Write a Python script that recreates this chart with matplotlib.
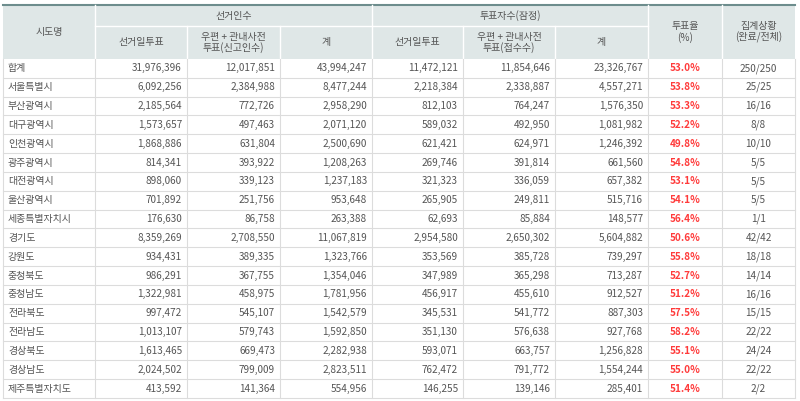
import matplotlib
matplotlib.use("Agg")
import matplotlib.pyplot as plt
from matplotlib.patches import Rectangle

plt.rcParams['font.family'] = ['Noto Sans CJK KR', 'DejaVu Sans']

regions = ["합계", "서울특별시", "부산광역시", "대구광역시", "인천광역시", "광주광역시", "대전광역시",
           "울산광역시", "세종특별자치시", "경기도", "강원도", "충청북도", "충청남도", "전라북도",
           "전라남도", "경상북도", "경상남도", "제주특별자치도"]
elect_day = [31976396, 6092256, 2185564, 1573657, 1868886, 814341, 898060, 701892, 176630,
             8359269, 934431, 986291, 1322981, 997472, 1013107, 1613465, 2024502, 413592]
elect_early = [12017851, 2384988, 772726, 497463, 631804, 393922, 339123, 251756, 86758,
               2708550, 389335, 367755, 458975, 545107, 579743, 669473, 799009, 141364]
elect_total = [43994247, 8477244, 2958290, 2071120, 2500690, 1208263, 1237183, 953648, 263388,
               11067819, 1323766, 1354046, 1781956, 1542579, 1592850, 2282938, 2823511, 554956]
vote_day = [11472121, 2218384, 812103, 589032, 621421, 269746, 321323, 265905, 62693,
            2954580, 353569, 347989, 456917, 345531, 351130, 593071, 762472, 146255]
vote_early = [11854646, 2338887, 764247, 492950, 624971, 391814, 336059, 249811, 85884,
              2650302, 385728, 365298, 455610, 541772, 576638, 663757, 791772, 139146]
vote_total = [23326767, 4557271, 1576350, 1081982, 1246392, 661560, 657382, 515716, 148577,
              5604882, 739297, 713287, 912527, 887303, 927768, 1256828, 1554244, 285401]
turnout = [53.0, 53.8, 53.3, 52.2, 49.8, 54.8, 53.1, 54.1, 56.4, 50.6, 55.8, 52.7, 51.2,
           57.5, 58.2, 55.1, 55.0, 51.4]
status = ["250/250", "25/25", "16/16", "8/8", "10/10", "5/5", "5/5", "5/5", "1/1", "42/42",
          "18/18", "14/14", "16/16", "15/15", "22/22", "24/24", "22/22", "2/2"]

W, H = 800, 401
fig = plt.figure(figsize=(8, 4.01), dpi=100)
ax = fig.add_axes([0, 0, 1, 1])
ax.set_xlim(0, W); ax.set_ylim(H, 0); ax.axis('off')

cols = [3, 95, 187, 280, 372, 463, 555, 648, 722, 795]
top, mid, hb = 5, 26, 59
rh = 18.83
hdr_bg = "#dfe7e7"
grid = "#dcdcdc"
txt = "#555555"
fs = 7.2

ax.add_patch(Rectangle((cols[0], top), cols[-1]-cols[0], hb-top, color=hdr_bg, lw=0))
ax.plot([cols[0], cols[-1]], [top, top], color="#6d8d8d", lw=1.5)
# header lines
ax.plot([cols[1], cols[7]], [mid, mid], color="white", lw=1)
for x in cols[1:-1]:
    y0 = mid if x in (cols[2], cols[3], cols[5], cols[6]) else top
    ax.plot([x, x], [y0, hb], color="white", lw=1)
hc = "#555555"
ax.text((cols[0]+cols[1])/2, (top+hb)/2, "시도명", ha='center', va='center', fontsize=fs, color=hc)
ax.text((cols[1]+cols[4])/2, (top+mid)/2, "선거인수", ha='center', va='center', fontsize=fs, color=hc)
ax.text((cols[4]+cols[7])/2, (top+mid)/2, "투표자수(잠정)", ha='center', va='center', fontsize=fs, color=hc)
subs = ["선거일투표", "우편 + 관내사전\n투표(신고인수)", "계", "선거일투표", "우편 + 관내사전\n투표(접수수)", "계"]
for i, s in enumerate(subs):
    ax.text((cols[i+1]+cols[i+2])/2, (mid+hb)/2, s, ha='center', va='center', fontsize=fs,
            color=hc, linespacing=1.0)
ax.text((cols[7]+cols[8])/2, (top+hb)/2, "투표율\n(%)", ha='center', va='center', fontsize=fs, color=hc, linespacing=1.1)
ax.text((cols[8]+cols[9])/2, (top+hb)/2, "집계상황\n(완료/전체)", ha='center', va='center', fontsize=fs, color=hc, linespacing=1.1)

nums = [elect_day, elect_early, elect_total, vote_day, vote_early, vote_total]
for r in range(len(regions)):
    y0 = hb + r*rh
    yc = y0 + rh/2
    ax.plot([cols[0], cols[-1]], [y0+rh, y0+rh], color=grid, lw=0.8)
    ax.text(cols[0]+5, yc, regions[r], ha='left', va='center', fontsize=fs, color=txt)
    for c, arr in enumerate(nums):
        ax.text(cols[c+2]-5, yc, f"{arr[r]:,}", ha='right', va='center', fontsize=fs, color=txt)
    ax.text((cols[7]+cols[8])/2, yc, f"{turnout[r]:.1f}%", ha='center', va='center', fontsize=fs,
            color="#ff3b3b", fontweight='bold')
    ax.text((cols[8]+cols[9])/2, yc, status[r], ha='center', va='center', fontsize=fs, color=txt)
ybot = hb + len(regions)*rh
for x in cols:
    ax.plot([x, x], [hb, ybot], color=grid, lw=0.8)

fig.savefig("out.png", dpi=100)
